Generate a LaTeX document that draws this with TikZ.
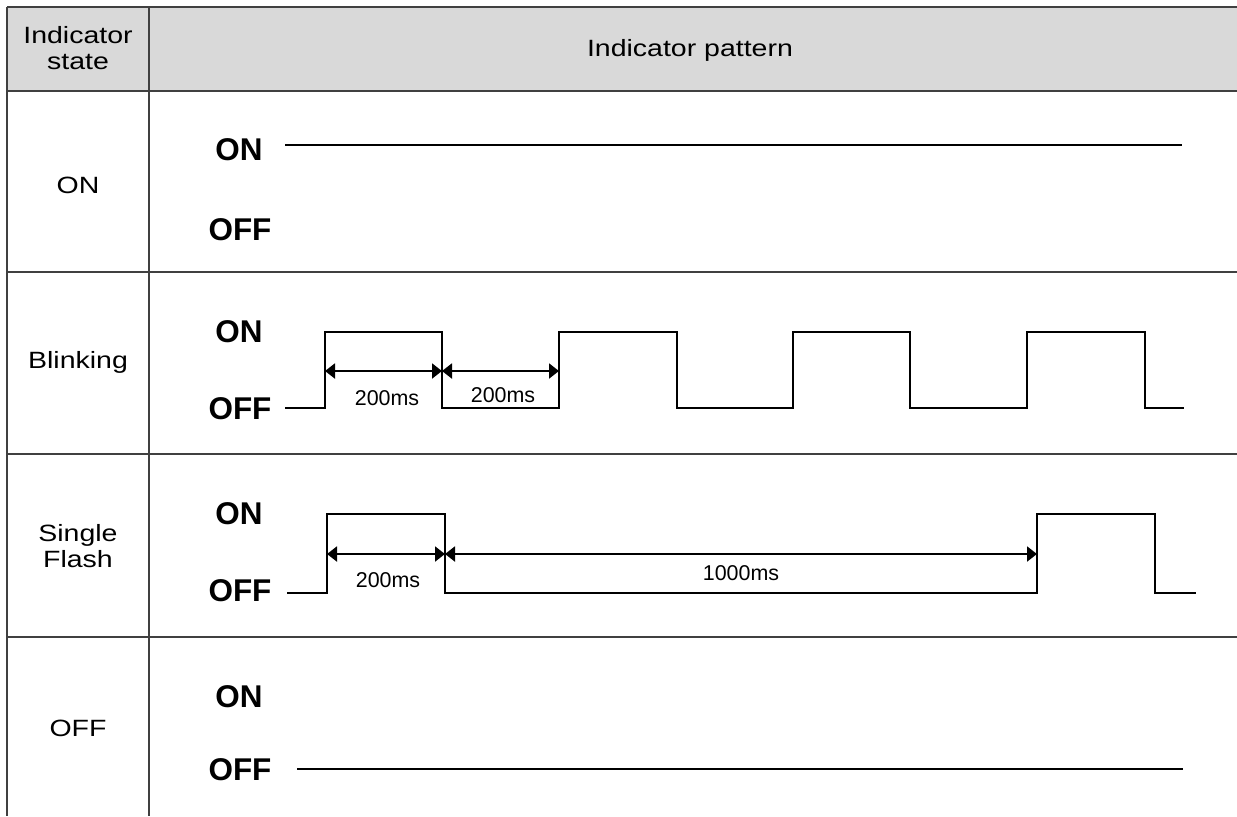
\documentclass[tikz,border=0pt]{standalone}
\usepackage{fontspec}
\setmainfont{Liberation Sans}
\newfontfamily\widesans[FakeStretch=1.21]{Liberation Sans}
\usetikzlibrary{arrows.meta,calc}

\definecolor{headgray}{RGB}{217,217,217}
\definecolor{rulegray}{RGB}{64,64,64}

\begin{document}
\begin{tikzpicture}[
  x=0.02cm, y=-0.02cm,
  >={Triangle[length=0.2cm,width=0.3cm]},
  rule/.style ={draw=rulegray,line width=0.85pt},
  wave/.style ={draw,line width=1.15pt},
  dim/.style  ={<->,line width=1.15pt},
  cell/.style ={align=center,inner sep=0pt,
                font=\widesans\fontsize{13.4}{14.8}\selectfont},
  level/.style={inner sep=0pt,font=\fontsize{17.9}{20}\selectfont\bfseries},
  ms/.style   ={inner sep=0pt,font=\fontsize{12.2}{14}\selectfont},
]
\useasboundingbox (0,0) rectangle (1237,816);

%% ============================================================
%% Table frame: header 7..91, rows split at 272, 454, 637
%% ============================================================
\fill[headgray] (7,7) rectangle (1237,91);
\draw[rule] (7,7) -- (1237,7);
\draw[rule] (7,91) -- (1237,91);
\draw[rule] (7,272) -- (1237,272);
\draw[rule] (7,454) -- (1237,454);
\draw[rule] (7,637) -- (1237,637);
\draw[rule] (7,7) -- (7,816);
\draw[rule] (149,7) -- (149,816);

% --- Header ---
\node[cell] (hstate)   at (78,48)  {Indicator\\state};
\node[cell] (hpattern) at (690,50) {Indicator pattern};

% --- State column ---
\node[cell] (son)    at (78,185) {ON};
\node[cell] (sblink) at (78,362) {Blinking};
\node[cell] (sflash) at (78,546) {Single\\Flash};
\node[cell] (soff)   at (78,728) {OFF};

%% ============================================================
%% Row 1: always ON
%% ============================================================
\node[level] (on1)  at (239,150) {ON};
\node[level] (off1) at (240,230) {OFF};
\draw[wave] (285,145) -- (1182,145);

%% ============================================================
%% Row 2: blinking, 200ms on / 200ms off
%% ============================================================
\node[level] (on2)  at (239,332) {ON};
\node[level] (off2) at (240,409) {OFF};
\draw[wave] (285,408) -| (325,332) -| (442,408) -| (559,332) -| (677,408)
            -| (793,332) -| (910,408) -| (1027,332) -| (1145,408) -- (1184,408);

\coordinate (b1) at (325,371);
\coordinate (b2) at (442,371);
\coordinate (b3) at (559,371);
\draw[dim] (b1) -- (b2);
\draw[dim] (b2) -- (b3);
\node[ms] (tb1) at (387,398) {200ms};
\node[ms] (tb2) at (503,395) {200ms};

%% ============================================================
%% Row 3: single flash, 200ms on / 1000ms off
%% ============================================================
\node[level] (on3)  at (239,514) {ON};
\node[level] (off3) at (240,591) {OFF};
\draw[wave] (287,593) -| (327,514) -| (445,593) -| (1037,514) -| (1155,593)
            -- (1196,593);

\coordinate (f1) at (327,554);
\coordinate (f2) at (445,554);
\coordinate (f3) at (1037,554);
\draw[dim] (f1) -- (f2);
\draw[dim] (f2) -- (f3);
\node[ms] (tf1) at (388,580) {200ms};
\node[ms] (tf2) at (741,573) {1000ms};

%% ============================================================
%% Row 4: always OFF
%% ============================================================
\node[level] (on4)  at (239,697) {ON};
\node[level] (off4) at (240,770) {OFF};
\draw[wave] (297,769) -- (1183,769);

\end{tikzpicture}
\end{document}
